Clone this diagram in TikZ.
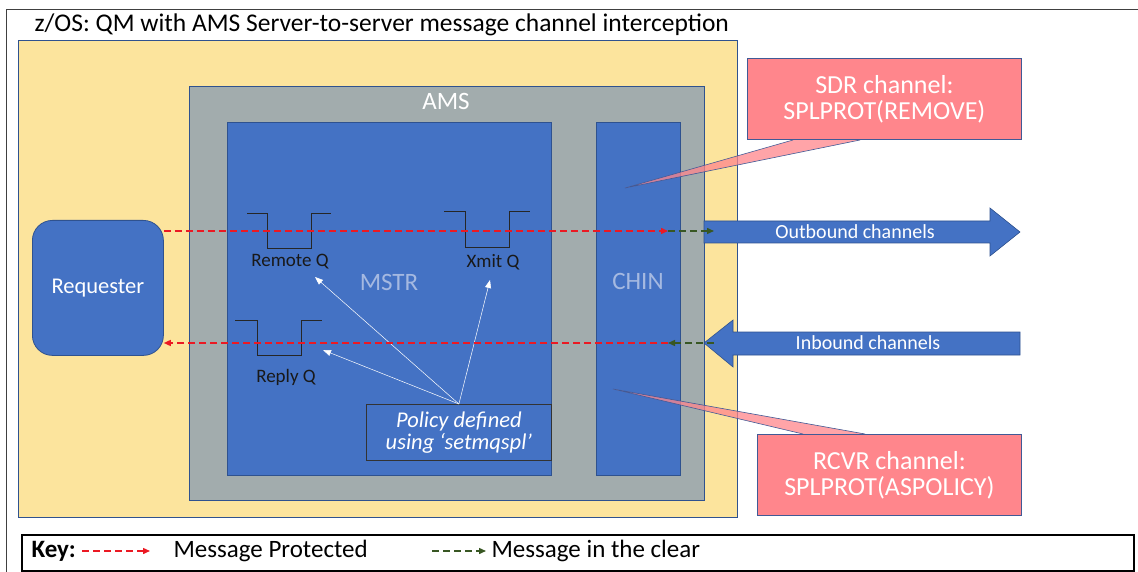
\documentclass[tikz,border=0pt]{standalone}
\usepackage{fontspec}
\setmainfont{Carlito}
\usetikzlibrary{arrows.meta,positioning,calc}
\definecolor{qmyellow}{RGB}{252,228,157}
\definecolor{amsgray}{RGB}{162,172,173}
\definecolor{chblue}{RGB}{68,114,196}
\definecolor{edgeblue}{RGB}{47,82,143}
\definecolor{calloutpink}{RGB}{255,134,140}
\definecolor{calloutedge}{RGB}{65,90,150}
\definecolor{protect}{RGB}{235,25,35}
\definecolor{clear}{RGB}{56,87,35}
\definecolor{paletext}{RGB}{165,185,225}
\newcommand{\fs}[1]{\fontsize{#1}{#1}\selectfont}
\tikzset{
    box/.style={draw=edgeblue, line width=0.8pt, inner sep=0pt, anchor=north west},
    queue/.style={draw=black!85, line width=0.8pt},
    qlabel/.style={font=\fs{19}, text=black!90},
    msgprot/.style={protect, dashed, dash pattern=on 7pt off 4pt, line width=1.4pt, -{Triangle[length=7pt,width=6pt]}},
    msgclear/.style={clear, dashed, dash pattern=on 7pt off 4pt, line width=1.4pt, -{Triangle[length=7pt,width=6pt]}},
    policyarrow/.style={white, line width=0.5pt, -{Triangle[length=8pt,width=6pt]}},
    chanarrow/.style={fill=chblue, draw=edgeblue, line width=0.6pt},
    callout/.style={fill=calloutpink, draw=calloutedge, line width=0.8pt}
}
\begin{document}
\begin{tikzpicture}[x=1pt, y=-1pt]
    \useasboundingbox (0,0) rectangle (1138,572);
    \fill[white] (0,0) rectangle (1138,572);

    % Frame and title
    \draw[black!75, line width=1pt] (6,575) -- (6,10) -- (1140,10);
    \node[anchor=west, font=\fs{25.5}] (title) at (31,25) {z/OS: QM with AMS Server-to-server message channel interception};

    % Queue manager
    \node[box, fill=qmyellow, minimum width=719, minimum height=477] (qm) at (18,40) {};
    \node[box, fill=amsgray, minimum width=515, minimum height=414] (ams) at (189,86) {};
    \node[font=\fs{25}, white] (amslbl) at (446,101) {AMS};
    \node[box, fill=chblue, minimum width=324, minimum height=353] (mstr) at (227,122) {};
    \node[box, fill=chblue, minimum width=84, minimum height=353] (chin) at (596,122) {};
    \node[font=\fs{25}, paletext] (mstrlbl) at (389,282) {MSTR};
    \node[font=\fs{25}, paletext] (chinlbl) at (638,281) {CHIN};

    % Requester
    \node[box, fill=chblue, rounded corners=20pt, minimum width=131, minimum height=135] (req) at (32,220) {};
    \node[font=\fs{22.5}, white] (reqlbl) at (req.center) {Requester};

    % Queues
    \draw[queue] (247,213) -- (267,213) -- (267,248) -- (311,248) -- (311,213) -- (331,213);
    \node[qlabel] (remq) at (290,262) {Remote Q};
    \draw[queue] (444,211) -- (465,211) -- (465,247) -- (509,247) -- (509,211) -- (530,211);
    \node[qlabel] (xmitq) at (493,262) {Xmit Q};
    \draw[queue] (235,320) -- (257,320) -- (257,355) -- (301,355) -- (301,320) -- (322,320);
    \node[qlabel] (replyq) at (286,377) {Reply Q};

    % Policy
    \node[box, fill=chblue, draw=black!80, minimum width=185, minimum height=56] (policy) at (366,404) {};
    \node[font=\fs{22.5}\itshape, white, align=center] (policylbl) at (policy.center) {Policy defined\\using ‘setmqspl’};
    \coordinate (remtip) at (315,277);
    \coordinate (xmittip) at (490,280);
    \coordinate (replytip) at (323,350);
    \draw[policyarrow] (policy.north) -- (remtip);
    \draw[policyarrow] (policy.north) -- (xmittip);
    \draw[policyarrow] (policy.north) -- (replytip);

    % Channels
    \draw[chanarrow] (704,221) -- (990,221) -- (990,208) -- (1020,232) -- (990,256) -- (990,243) -- (704,243) -- cycle;
    \node[font=\fs{20}, white] (outlbl) at (855,232) {Outbound channels};
    \draw[chanarrow] (1020,332) -- (733,332) -- (733,320) -- (704,343) -- (733,367) -- (733,355) -- (1020,355) -- cycle;
    \node[font=\fs{20}, white] (inlbl) at (868,343) {Inbound channels};

    % Message flows
    \coordinate (outmid) at (668,231);
    \coordinate (outend) at (714,231);
    \coordinate (inmid) at (668,343);
    \coordinate (instart) at (714,343);
    \draw[msgprot] (req.east |- outmid) -- (outmid);
    \draw[msgclear] (outmid) -- (outend);
    \draw[msgclear] (instart) -- (inmid);
    \draw[msgprot] (inmid) -- (req.east |- inmid);

    % Callouts
    \fill[calloutpink, opacity=0.75] (793,140) -- (625,188) -- (860,140) -- cycle;
    \draw[calloutedge, line width=0.6pt] (793,140) -- (625,188) -- (860,140);
    \node[box, callout, minimum width=274, minimum height=81] (sdr) at (747,58) {};
    \node[font=\fs{26}, white, align=center] (sdrlbl) at (sdr.center) {SDR channel:\\SPLPROT(REMOVE)};
    \fill[calloutpink, opacity=0.75] (803,434) -- (613,389) -- (865,434) -- cycle;
    \draw[calloutedge, line width=0.6pt] (803,434) -- (613,389) -- (865,434);
    \node[box, callout, minimum width=264, minimum height=81] (rcvr) at (757,434) {};
    \node[font=\fs{26}, white, align=center] (rcvrlbl) at (rcvr.center) {RCVR channel:\\SPLPROT(ASPOLICY)};

    % Key
    \node[draw=black, line width=2pt, anchor=north west, minimum width=1112, minimum height=36, inner sep=0pt] (key) at (21,534) {};
    \node[anchor=west, font=\fs{25}\bfseries] (keylbl) at (28,551) {Key:};
    \coordinate (kp1) at (82,551);
    \coordinate (kp2) at (150,551);
    \draw[msgprot] (kp1) -- (kp2);
    \node[anchor=west, font=\fs{25}] (kplbl) at (170,551) {Message Protected};
    \coordinate (kc1) at (432,551);
    \coordinate (kc2) at (486,551);
    \draw[msgclear] (kc1) -- (kc2);
    \node[anchor=west, font=\fs{25}] (kclbl) at (488,551) {Message in the clear};
\end{tikzpicture}
\end{document}
